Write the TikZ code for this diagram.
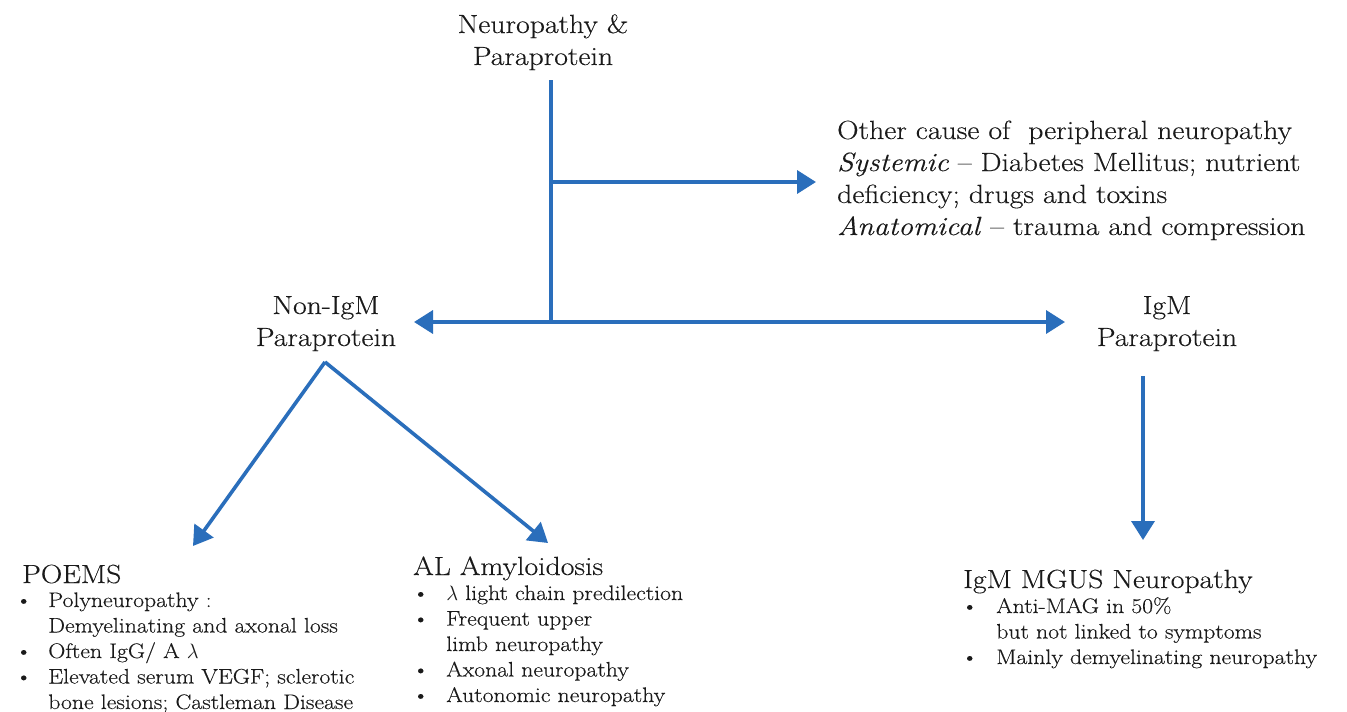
\documentclass[tikz,border=0pt]{standalone}
\usepackage{fontspec}
\setmainfont{Latin Modern Roman}[FakeStretch=1.13,FakeBold=0.25]
\usetikzlibrary{arrows.meta,calc}
\definecolor{arrowblue}{HTML}{2A6EBB}
\definecolor{txt}{HTML}{1A1A1A}
\begin{document}
\begin{tikzpicture}[x=1pt,y=-1pt,
  conn/.style={draw=arrowblue,line width=3.6pt,-{Triangle[length=19pt,width=23pt]}},
  plain/.style={draw=arrowblue,line width=3.6pt},
  big/.style={font=\fontsize{26.3}{32}\selectfont,text=txt,inner sep=0pt},
  small/.style={font=\fontsize{21}{25.5}\selectfont,text=txt,inner sep=0pt}]
\useasboundingbox[fill=white] (0,0) rectangle (1347,712);

% text nodes
\node[big,anchor=base] (top) at (543,33)
  {\begin{tabular}[t]{@{}c@{}}Neuropathy \&\\Paraprotein\end{tabular}};
\node[big,anchor=base west] (other) at (837,139)
  {\begin{tabular}[t]{@{}l@{}}Other cause of\ \ peripheral neuropathy\\
   \textit{Systemic} -- Diabetes Mellitus; nutrient\\
   deficiency; drugs and toxins\\
   \textit{Anatomical} -- trauma and compression\end{tabular}};
\node[big,anchor=base] (nonigm) at (326,314)
  {\begin{tabular}[t]{@{}c@{}}Non-IgM\\Paraprotein\end{tabular}};
\node[big,anchor=base] (igm) at (1167,314)
  {\begin{tabular}[t]{@{}c@{}}IgM\\Paraprotein\end{tabular}};

\node[big,anchor=base west] (poems) at (22,583) {POEMS};
\node[small,anchor=base west] (poemsl) at (15,607)
  {\begin{tabular}[t]{@{}l@{\hspace{16pt}}l@{}}
   \textbullet & Polyneuropathy :\\
   & Demyelinating and axonal loss\\
   \textbullet & Often IgG/ A $\lambda$\\
   \textbullet & Elevated serum VEGF; sclerotic\\
   & bone lesions; Castleman Disease\end{tabular}};

\node[big,anchor=base west] (al) at (413,575) {AL Amyloidosis};
\node[small,anchor=base west] (all) at (412,600)
  {\begin{tabular}[t]{@{}l@{\hspace{17pt}}l@{}}
   \textbullet & $\lambda$ light chain predilection\\
   \textbullet & Frequent upper\\
   & limb neuropathy\\
   \textbullet & Axonal neuropathy\\
   \textbullet & Autonomic neuropathy\end{tabular}};

\node[big,anchor=base west] (mgus) at (963,588) {IgM MGUS Neuropathy};
\node[small,anchor=base west] (mgusl) at (961,613)
  {\begin{tabular}[t]{@{}l@{\hspace{18pt}}l@{}}
   \textbullet & Anti-MAG in 50\%\\
   & but not linked to symptoms\\
   \textbullet & Mainly demyelinating neuropathy\end{tabular}};

% junctions
\coordinate (j1) at (551,182);
\coordinate (j2) at (551,322);

% connectors
\draw[plain] ($(top.base)+(8,47)$) -- (j2);
\draw[conn] (j1) -- ($(other.base west)+(-21,43)$);
\draw[conn] (j2) -- ($(nonigm.base)+(88,8)$);
\draw[conn] (j2) -- ($(igm.base)+(-102,8)$);
\draw[conn] ($(nonigm.base)+(-1,48)$) -- ($(poems.base west)+(171,-37)$);
\draw[conn] ($(nonigm.base)+(-1,48)$) -- ($(al.base west)+(135,-32)$);
\draw[conn] ($(igm.base)+(-24,62)$) -- ($(mgus.base west)+(180,-48)$);
\end{tikzpicture}
\end{document}
